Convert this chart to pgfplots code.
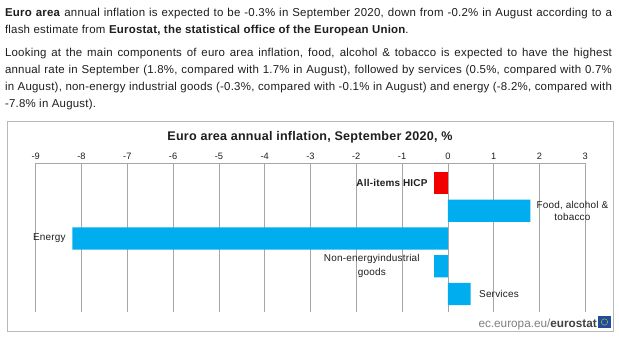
\documentclass[border=0pt]{standalone}
\usepackage{pgfplots}
\pgfplotsset{compat=1.18}
\usepackage{fontspec}
\setmainfont{Liberation Sans}[LetterSpace=2]
\newfontfamily\plainfont{Liberation Sans}
\definecolor{barblue}{HTML}{00AEEF}
\definecolor{barred}{HTML}{F20000}
\definecolor{gridgray}{HTML}{A6A6A6}
\definecolor{txt}{HTML}{1E1E1E}
\definecolor{eublue}{HTML}{1F4E9C}
\begin{document}
\begin{tikzpicture}
\path[use as bounding box] (0,0) rectangle (619bp,-346bp);
\begin{scope}[x=1bp,y=-1bp]
\fill[white] (0,0) rectangle (619,346);
\begin{scope}[every node/.style={inner sep=0pt,outer sep=0pt,anchor=base west,text=txt,font=\fontsize{11.5}{13}\selectfont}]
\node at (5,16) {\makebox[607bp][s]{\textbf{Euro area} annual inflation is expected to be -0.3\% in September 2020, down from -0.2\% in August according to a}};
\node at (5,33) {flash estimate from \textbf{Eurostat, the statistical office of the European Union}.};
\node at (5,56) {\makebox[607bp][s]{Looking at the main components of euro area inflation, food, alcohol \& tobacco is expected to have the highest}};
\node at (5,73) {\makebox[607bp][s]{annual rate in September (1.8\%, compared with 1.7\% in August), followed by services (0.5\%, compared with 0.7\%}};
\node at (5,90) {\makebox[607bp][s]{in August), non-energy industrial goods (-0.3\%, compared with -0.1\% in August) and energy (-8.2\%, compared with}};
\node at (5,107) {-7.8\% in August).};
\end{scope}
\draw[gridgray!80, line width=0.8bp] (7,121) rectangle (613,331);
\node[font=\bfseries\fontsize{12.6}{14}\selectfont, text=txt, anchor=base] at (310,140) {Euro area annual inflation, September 2020, \%};
\node[anchor=base east, inner sep=0pt, font=\plainfont\fontsize{11.8}{14}\selectfont] at (597,327) {\textcolor{gray}{ec.europa.eu/}\textcolor{darkgray}{\textbf{eurostat}}};
\fill[eublue] (598,316) rectangle (611,328);
\draw[yellow!80!orange, line width=0.3bp] (604.5,322) circle (3.2);
\end{scope}
\begin{axis}[
  at={(35.7bp,-163bp)}, anchor=north west,
  scale only axis, width=549.5bp, height=149bp,
  xmin=-9, xmax=3, ymin=-0.72, ymax=4.65, y dir=reverse,
  xbar, bar width=0.8,
  axis x line*=top, axis y line=none,
  xtick={-9,-8,...,3}, ytick=\empty,
  major tick length=0pt,
  xmajorgrids, grid style={gridgray, line width=0.6bp},
  axis line style={gridgray, line width=0.6bp},
  /pgf/number format/assume math mode=true,
  xticklabel style={font=\plainfont\fontsize{9.3}{10}\selectfont, text=txt},
  clip=false,
]
\addplot[draw=none, fill=barred, bar shift=0pt] coordinates {(-0.3,0)};
\addplot[draw=none, fill=barblue, bar shift=0pt] coordinates {(1.8,1) (-8.2,2) (-0.3,3) (0.5,4)};
\begin{scope}[every node/.style={font=\fontsize{10}{11.5}\selectfont, text=txt, inner sep=0pt}]
\node[anchor=east, font=\bfseries\fontsize{10}{11.5}\selectfont] at (axis cs:-0.44,0) {All-items HICP};
\node[align=center] at (axis cs:2.72,1) {Food, alcohol \&\\tobacco};
\node[anchor=east] at (axis cs:-8.34,2) {Energy};
\node[align=center] at (axis cs:-1.66,3) {Non-energyindustrial\\[2.5bp]goods};
\node[anchor=west] at (axis cs:0.68,4) {Services};
\end{scope}
\end{axis}
\end{tikzpicture}
\end{document}
